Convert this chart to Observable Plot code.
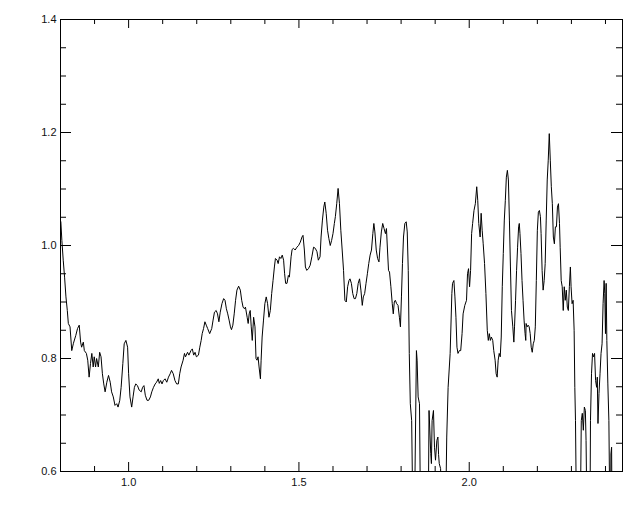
<!DOCTYPE html>
<html>
<head>
<meta charset="utf-8">
<script src="https://cdn.jsdelivr.net/npm/d3@7"></script>
<script src="https://cdn.jsdelivr.net/npm/@observablehq/plot@0.6"></script>
<style>
  html, body { margin: 0; padding: 0; background: #fff; }
  #chart { width: 640px; height: 512px; }
</style>
</head>
<body>
<div id="chart"></div>
<script>
const wavelength = [
0.801,0.804,0.808,0.812,0.816,0.820,0.823,0.828,0.833,0.838,0.845,0.850,0.855,0.859,0.862,0.867,0.870,0.876,0.880,0.884,
0.888,0.892,0.896,0.899,0.903,0.906,0.911,0.915,0.919,0.923,0.927,0.931,0.936,0.941,0.946,0.950,0.955,0.960,0.965,0.969,
0.974,0.978,0.983,0.987,0.992,0.997,1.000,1.004,1.009,1.013,1.017,1.021,1.026,1.031,1.037,1.041,1.045,1.049,1.054,1.059,
1.064,1.068,1.073,1.078,1.082,1.087,1.090,1.094,1.098,1.102,1.107,1.112,1.117,1.122,1.126,1.131,1.136,1.141,1.146,1.150,
1.154,1.160,1.164,1.167,1.173,1.177,1.183,1.187,1.191,1.195,1.199,1.205,1.209,1.213,1.216,1.220,1.224,1.228,1.232,1.238,
1.244,1.248,1.252,1.257,1.261,1.265,1.269,1.274,1.279,1.283,1.287,1.291,1.295,1.299,1.302,1.306,1.310,1.314,1.318,1.323,
1.328,1.332,1.336,1.340,1.343,1.348,1.351,1.354,1.357,1.360,1.363,1.367,1.371,1.374,1.377,1.380,1.383,1.387,1.389,1.392,
1.396,1.400,1.404,1.408,1.412,1.416,1.420,1.424,1.428,1.431,1.436,1.439,1.443,1.447,1.451,1.455,1.458,1.461,1.465,1.469,
1.472,1.477,1.480,1.484,1.489,1.494,1.499,1.504,1.509,1.512,1.516,1.519,1.523,1.528,1.533,1.538,1.543,1.548,1.553,1.557,
1.562,1.565,1.569,1.573,1.576,1.580,1.584,1.588,1.592,1.596,1.600,1.604,1.607,1.611,1.615,1.619,1.623,1.627,1.631,1.635,
1.639,1.643,1.647,1.650,1.654,1.658,1.662,1.666,1.670,1.674,1.678,1.682,1.686,1.689,1.693,1.697,1.701,1.705,1.709,1.713,
1.717,1.720,1.723,1.727,1.731,1.735,1.738,1.742,1.746,1.750,1.754,1.757,1.760,1.763,1.766,1.770,1.774,1.777,1.780,1.783,
1.787,1.791,1.795,1.798,1.801,1.804,1.807,1.811,1.815,1.818,1.821,1.824,1.827,1.831,1.837,1.845,1.847,1.850,1.854,1.858,
1.868,1.879,1.882,1.887,1.889,1.891,1.895,1.898,1.901,1.905,1.908,1.910,1.912,1.916,1.921,1.929,1.934,1.938,1.944,1.949,
1.951,1.955,1.958,1.961,1.964,1.967,1.971,1.975,1.979,1.982,1.987,1.992,1.995,1.998,2.001,2.004,2.007,2.010,2.014,2.018,
2.022,2.025,2.028,2.032,2.035,2.038,2.041,2.045,2.049,2.053,2.056,2.059,2.062,2.065,2.069,2.072,2.076,2.079,2.082,2.085,
2.088,2.091,2.094,2.097,2.100,2.103,2.106,2.109,2.112,2.115,2.118,2.121,2.124,2.128,2.131,2.133,2.136,2.139,2.142,2.145,
2.147,2.149,2.152,2.155,2.158,2.161,2.164,2.166,2.167,2.170,2.173,2.176,2.179,2.182,2.185,2.188,2.191,2.194,2.197,2.200,
2.203,2.206,2.209,2.211,2.214,2.217,2.220,2.223,2.226,2.229,2.232,2.235,2.238,2.241,2.244,2.247,2.250,2.253,2.256,2.259,
2.262,2.265,2.267,2.270,2.273,2.276,2.279,2.282,2.285,2.288,2.291,2.294,2.297,2.299,2.302,2.305,2.308,2.310,2.312,2.316,
2.325,2.329,2.332,2.335,2.338,2.341,2.343,2.347,2.354,2.356,2.359,2.362,2.365,2.368,2.371,2.374,2.376,2.378,2.381,2.384,
2.387,2.390,2.393,2.396,2.398,2.400,2.402,2.404,2.407,2.410,2.414,2.416,2.418,2.420
];
const flux = [
1.042,1.009,0.974,0.944,0.909,0.885,0.862,0.856,0.814,0.827,0.841,0.853,0.859,0.829,0.820,0.829,0.814,0.809,0.797,0.767,
0.791,0.809,0.785,0.803,0.785,0.800,0.785,0.811,0.803,0.773,0.755,0.741,0.758,0.770,0.758,0.741,0.732,0.717,0.720,0.714,
0.726,0.749,0.791,0.826,0.832,0.820,0.773,0.732,0.714,0.732,0.749,0.755,0.752,0.744,0.741,0.749,0.752,0.735,0.726,0.726,
0.732,0.741,0.749,0.755,0.758,0.764,0.756,0.761,0.755,0.761,0.764,0.758,0.767,0.773,0.779,0.773,0.761,0.755,0.755,0.773,
0.785,0.797,0.809,0.803,0.811,0.806,0.814,0.817,0.806,0.811,0.803,0.806,0.820,0.832,0.844,0.853,0.865,0.859,0.853,0.844,
0.853,0.868,0.882,0.885,0.879,0.865,0.882,0.897,0.906,0.903,0.888,0.879,0.868,0.856,0.851,0.859,0.879,0.903,0.921,0.928,
0.921,0.903,0.891,0.888,0.891,0.873,0.862,0.879,0.885,0.856,0.832,0.873,0.856,0.800,0.797,0.803,0.785,0.764,0.797,0.838,
0.868,0.897,0.909,0.897,0.873,0.885,0.915,0.938,0.962,0.977,0.974,0.968,0.980,0.977,0.983,0.974,0.950,0.933,0.933,0.947,
0.944,0.980,0.993,0.995,0.992,0.997,1.000,1.006,1.015,1.018,0.992,0.962,0.956,0.959,0.965,0.980,0.997,0.995,0.989,0.974,
0.980,1.015,1.045,1.068,1.077,1.057,1.027,1.012,1.000,1.009,1.021,1.039,1.051,1.074,1.101,1.074,1.027,0.992,0.956,0.903,
0.900,0.927,0.938,0.941,0.933,0.915,0.906,0.906,0.915,0.933,0.941,0.921,0.894,0.909,0.915,0.933,0.950,0.968,0.983,0.992,
1.021,1.039,1.024,0.992,0.977,0.971,0.997,1.024,1.039,1.030,1.021,1.030,0.992,0.956,0.953,0.927,0.897,0.879,0.900,0.903,
0.897,0.894,0.873,0.856,0.909,0.968,1.015,1.039,1.042,1.024,0.956,0.809,0.720,0.690,0.400,0.814,0.797,0.732,0.720,0.450,
0.400,0.450,0.708,0.632,0.614,0.690,0.708,0.643,0.620,0.655,0.661,0.630,0.614,0.605,0.450,0.450,0.661,0.749,0.809,0.915,
0.933,0.938,0.909,0.873,0.820,0.809,0.814,0.814,0.844,0.879,0.894,0.903,0.950,0.959,0.927,0.956,1.021,1.039,1.062,1.074,
1.104,1.080,1.039,1.015,1.057,1.027,1.003,0.968,0.915,0.850,0.832,0.844,0.832,0.838,0.832,0.814,0.797,0.773,0.767,0.797,
0.809,0.803,0.838,0.927,0.986,1.045,1.080,1.121,1.133,1.116,1.045,0.962,0.885,0.856,0.829,0.856,0.903,0.956,0.997,1.033,
1.039,1.021,0.986,0.938,0.903,0.868,0.844,0.832,0.862,0.856,0.859,0.856,0.844,0.820,0.811,0.826,0.832,0.856,0.938,1.027,
1.059,1.062,1.051,1.021,0.956,0.921,0.938,0.968,1.045,1.116,1.151,1.198,1.151,1.104,1.074,1.015,1.003,1.033,1.033,1.068,
1.074,1.039,0.997,0.938,0.927,0.885,0.927,0.903,0.921,0.891,0.885,0.927,0.962,0.927,0.897,0.903,0.850,0.749,0.690,0.450,
0.450,0.690,0.703,0.673,0.714,0.708,0.655,0.450,0.450,0.690,0.773,0.809,0.803,0.809,0.761,0.749,0.767,0.685,0.738,0.773,
0.809,0.826,0.897,0.938,0.915,0.844,0.933,0.832,0.755,0.690,0.450,0.631,0.643,0.450
];
const xMajorTicks = [1.0, 1.5, 2.0];
const xMinorTicks = [0.9, 1.1, 1.2, 1.3, 1.4, 1.6, 1.7, 1.8, 1.9, 2.1, 2.2, 2.3, 2.4];
const yMajorTicks = [0.6, 0.8, 1.0, 1.2, 1.4];
const yMinorTicks = [0.65, 0.7, 0.75, 0.85, 0.9, 0.95, 1.05, 1.1, 1.15, 1.25, 1.3, 1.35];

const data = wavelength.map((w, i) => ({w, f: flux[i]}));

const W = 640, H = 512;
const mL = 60, mR = 18, mT = 19, mB = 41;
const iw = W - mL - mR, ih = H - mT - mB;

const chart = Plot.plot({
  width: W,
  height: H,
  marginLeft: mL,
  marginRight: mR,
  marginTop: mT,
  marginBottom: mB,
  style: {fontFamily: "Liberation Sans, Arial, sans-serif", fontSize: "11px", color: "#111", background: "#fff"},
  x: {domain: [0.8, 2.45]},
  y: {domain: [0.6, 1.4]},
  marks: [
    Plot.axisX({ticks: xMajorTicks, tickSize: 0, tickPadding: 7, tickFormat: d3.format(".1f"), label: null}),
    Plot.axisY({ticks: yMajorTicks, tickSize: 0, tickPadding: 4, tickFormat: d3.format(".1f"), label: null}),
    Plot.line(data, {x: "w", y: "f", stroke: "black", strokeWidth: 1, clip: true}),
    // bottom ticks
    Plot.tickX(xMajorTicks, {x: d => d, insetTop: ih - 9, stroke: "black"}),
    Plot.tickX(xMinorTicks, {x: d => d, insetTop: ih - 5, stroke: "black"}),
    // top ticks
    Plot.tickX(xMajorTicks, {x: d => d, insetBottom: ih - 9, stroke: "black"}),
    Plot.tickX(xMinorTicks, {x: d => d, insetBottom: ih - 5, stroke: "black"}),
    // left ticks
    Plot.tickY(yMajorTicks, {y: d => d, insetRight: iw - 11, stroke: "black"}),
    Plot.tickY(yMinorTicks, {y: d => d, insetRight: iw - 6, stroke: "black"}),
    // right ticks
    Plot.tickY(yMajorTicks, {y: d => d, insetLeft: iw - 11, stroke: "black"}),
    Plot.tickY(yMinorTicks, {y: d => d, insetLeft: iw - 6, stroke: "black"}),
    Plot.frame({stroke: "black", strokeWidth: 1})
  ]
});
document.getElementById("chart").appendChild(chart);
</script>
</body>
</html>
